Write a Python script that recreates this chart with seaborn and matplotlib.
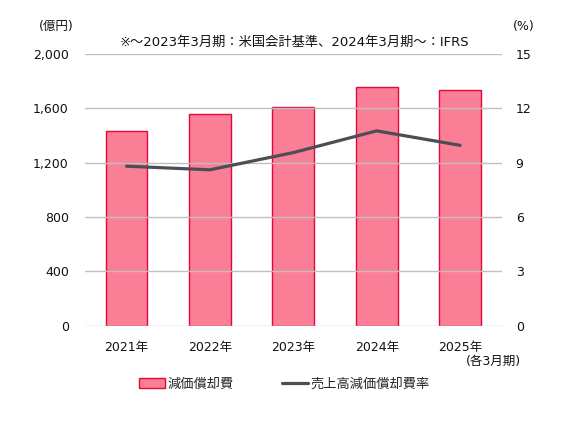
import matplotlib
matplotlib.use("Agg")
import matplotlib.pyplot as plt
import seaborn as sns
import pandas as pd
from matplotlib.patches import Patch
from matplotlib.lines import Line2D

years = ["2021年", "2022年", "2023年", "2024年", "2025年"]
depreciation = [1432, 1560, 1609, 1759, 1734]
ratio = [8.8, 8.6, 9.55, 10.75, 9.95]
left_ticks = [0, 400, 800, 1200, 1600, 2000]
left_labels = ["0", "400", "800", "1,200", "1,600", "2,000"]
right_ticks = [0, 3, 6, 9, 12, 15]

sns.set_theme(style="white")
plt.rcParams["font.family"] = ["DejaVu Sans", "Noto Sans CJK JP"]

df = pd.DataFrame({"year": years, "dep": depreciation, "ratio": ratio})

fig = plt.figure(figsize=(5.69, 4.24), dpi=100)
ax = fig.add_axes([0.149, 0.232, 0.733, 0.641])

bar_face = "#FA7F96"
bar_edge = "#E8053C"
line_col = "#4A4F55"
grid_col = "#BFBFBF"

sns.barplot(data=df, x="year", y="dep", ax=ax, color=bar_face, width=0.5,
            edgecolor=bar_edge, linewidth=1.0, saturation=1, zorder=1)
ax.set_ylim(0, 2000)
ax.set_xlim(-0.5, 4.5)
ax.set_yticks(left_ticks)
ax.set_yticklabels(left_labels)
ax.set_axisbelow(False)
ax.yaxis.grid(True, color=grid_col, linewidth=1.0, zorder=2)
ax.xaxis.grid(False)
for s in ax.spines.values():
    s.set_visible(False)
ax.set_xlabel("")
ax.set_ylabel("")
ax.tick_params(axis="y", length=0, pad=11.5, labelsize=9, colors="#111111")
ax.tick_params(axis="x", length=0, pad=11, labelsize=9, colors="#111111")

ax2 = ax.twinx()
sns.lineplot(data=df, x="year", y="ratio", ax=ax2, color=line_col, linewidth=2.3,
             sort=False, zorder=5)
ax2.set_ylim(0, 15)
ax2.set_yticks(right_ticks)
ax2.set_xlim(-0.5, 4.5)
for s in ax2.spines.values():
    s.set_visible(False)
ax2.grid(False)
ax2.set_ylabel("")
ax2.tick_params(axis="y", length=0, pad=10, labelsize=9, colors="#111111")

fig.text(0.0985, 0.922, "(億円)", ha="center", va="bottom", fontsize=9, color="#111111")
fig.text(0.92, 0.922, "(%)", ha="center", va="bottom", fontsize=9, color="#111111")
fig.text(0.517, 0.9, "※～2023年3月期：米国会計基準、2024年3月期～：IFRS",
         ha="center", va="center", fontsize=9.5, color="#111111")
fig.text(0.915, 0.147, "(各3月期)", ha="right", va="center", fontsize=9, color="#111111")

handles = [Patch(facecolor=bar_face, edgecolor=bar_edge, linewidth=1.0),
           Line2D([0], [0], color=line_col, linewidth=2.3)]
fig.legend(handles, ["減価償却費", "売上高減価償却費率"], loc="center",
           bbox_to_anchor=(0.5, 0.094), ncol=2, frameon=False, fontsize=9.5,
           handlelength=2.0, handleheight=0.8, handletextpad=0.2, columnspacing=3.6)

fig.savefig("out.png", dpi=100, facecolor="white")
